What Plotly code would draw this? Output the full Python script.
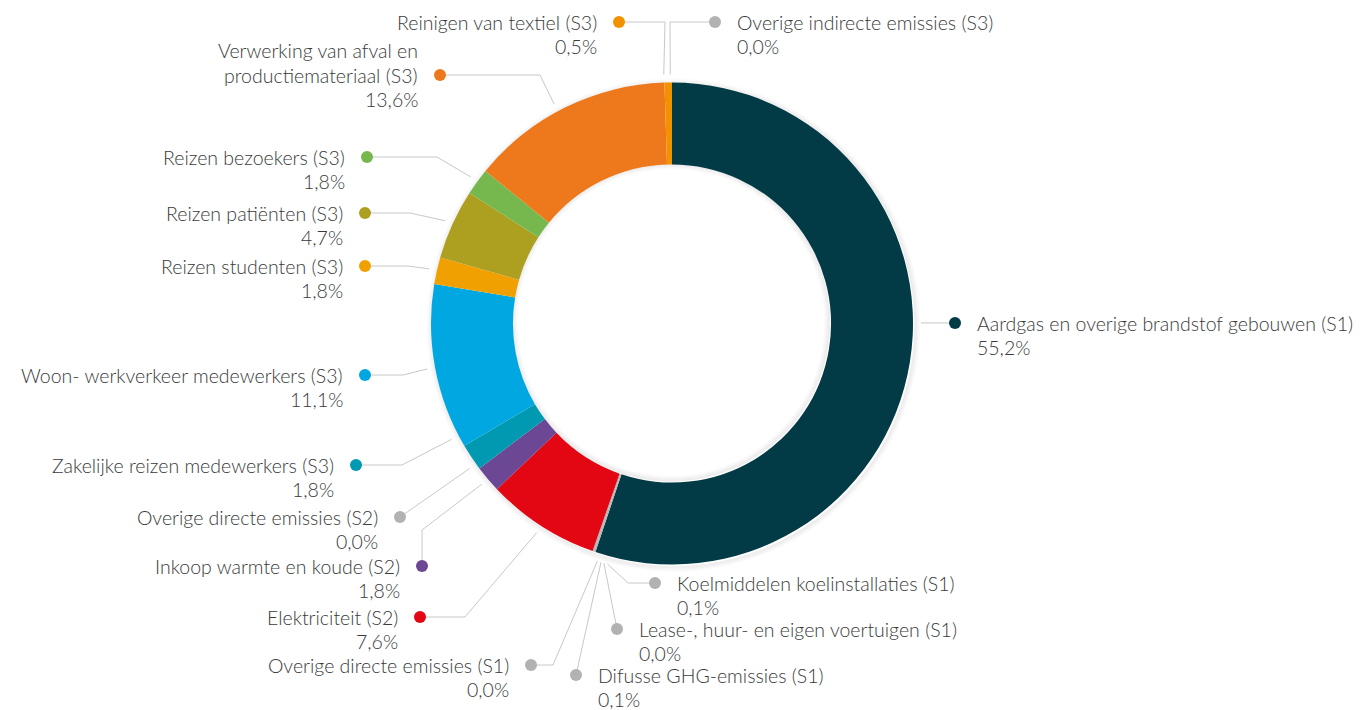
import math
import plotly.graph_objects as go

# ---------------- data ----------------
categories = [
    "Aardgas en overige brandstof gebouwen (S1)",
    "Koelmiddelen koelinstallaties (S1)",
    "Lease-, huur- en eigen voertuigen (S1)",
    "Difusse GHG-emissies (S1)",
    "Overige directe emissies (S1)",
    "Elektriciteit (S2)",
    "Overige directe emissies (S2)",
    "Inkoop warmte en koude (S2)",
    "Zakelijke reizen medewerkers (S3)",
    "Woon- werkverkeer medewerkers (S3)",
    "Reizen studenten (S3)",
    "Reizen patiënten (S3)",
    "Reizen bezoekers (S3)",
    "Verwerking van afval en productiemateriaal (S3)",
    "Reinigen van textiel (S3)",
    "Overige indirecte emissies (S3)",
]
values = [55.2, 0.1, 0.0, 0.1, 0.0, 7.6, 0.0, 1.8, 1.8, 11.1, 1.8, 4.7, 1.8, 13.6, 0.5, 0.0]

# ---------------- styles ----------------
colors = ["#023A46", "#B2B2B2", "#B2B2B2", "#B2B2B2", "#B2B2B2", "#E30613", "#B2B2B2",
          "#6B4794", "#0099B2", "#00A7E1", "#F0A000", "#ADA020", "#76B84E", "#EE791C",
          "#F39200", "#B2B2B2"]

# label layout (pixel positions of dots, elbows, side, small angle nudge of leader start)
label_side = ["R", "R", "R", "R", "L", "L", "L", "L", "L", "L", "L", "L", "L", "L", "L", "R"]
dot_xy = [(955, 323), (655, 583), (617, 629), (576, 675), (531, 665), (420, 617), (400, 517),
          (422, 566), (356, 465), (365, 375), (365, 266), (365, 213), (367, 157), (440, 75),
          (619, 22), (715, 22)]
elbows = [[], [(628, 583)], [], [], [(553, 665)], [(465, 617)], [], [(422, 530)],
          [(402, 465)], [(403, 375)], [(408, 266)], [(410, 213)], [(437, 157)], [(540, 75)],
          [(665, 22)], [(670, 22)]]
angle_nudge = [-9.4, -3.7, -3.0, -2.5, -1.8, 0, 7.8, 0, 6, 0, 0, 0, 0, -2, -1, -0.4]
name_lines = [[c] for c in categories]
name_lines[13] = ["Verwerking van afval en", "productiemateriaal (S3)"]

W, H = 1363, 710
CX, CY, R = 672, 323.5, 241
HOLE = 0.66
R_ANCHOR = 249
LH = 24.5
FONT = "Lato"
FSIZE = 19.5
TXT = "#3A3A3A"
LINE = "#C8C8C8"

fig = go.Figure()

fig.add_trace(go.Pie(
    labels=categories, values=values, sort=False, direction="clockwise", rotation=0,
    hole=HOLE, textinfo="none", marker=dict(colors=colors, line=dict(width=0)),
    domain=dict(x=[(CX - R) / W, (CX + R) / W], y=[(H - CY - R) / H, (H - CY + R) / H]),
    showlegend=False, hoverinfo="label+percent",
))

# soft shadow rings around the donut (decoration)
shapes = []
RI = R * HOLE
for k in range(1, 7):
    alpha = 0.07 * (7 - k) / 6
    for rr, off in ((R + k - 0.5, 1.5), (RI - k + 0.5, -1.0)):
        shapes.append(dict(type="circle", xref="x", yref="y", layer="below",
                           x0=CX + off - rr, x1=CX + off + rr, y0=CY + off - rr, y1=CY + off + rr,
                           line=dict(color=f"rgba(0,0,0,{alpha:.3f})", width=1.2)))

total = sum(values)
cum = 0.0
annotations = []
for i, v in enumerate(values):
    mid = (cum + v / 2) / total * 360 + angle_nudge[i]
    cum += v
    a = math.radians(mid)
    ax, ay = CX + R_ANCHOR * math.sin(a), CY - R_ANCHOR * math.cos(a)
    pts = [(ax, ay)] + elbows[i] + [dot_xy[i]]
    fig.add_trace(go.Scatter(x=[p[0] for p in pts], y=[p[1] for p in pts], mode="lines",
                             line=dict(color=LINE, width=1), hoverinfo="skip",
                             showlegend=False, xaxis="x", yaxis="y"))
    fig.add_trace(go.Scatter(x=[dot_xy[i][0]], y=[dot_xy[i][1]], mode="markers",
                             marker=dict(color=colors[i], size=12), hoverinfo="skip",
                             showlegend=False, xaxis="x", yaxis="y"))
    dx, dy = dot_xy[i]
    lines = name_lines[i] + [f"{v:.1f}".replace(".", ",") + "%"]
    y0 = dy - (len(name_lines[i]) - 1) * LH
    for k, t in enumerate(lines):
        if label_side[i] == "L":
            tx, anchor = dx - 20, "right"
        else:
            tx, anchor = dx + 20, "left"
        annotations.append(dict(x=tx, y=y0 + k * LH, xref="x", yref="y", text=t,
                                showarrow=False, xanchor=anchor, yanchor="middle",
                                font=dict(family=FONT, size=FSIZE, color=TXT, weight=300)))

fig.update_layout(
    width=W, height=H, margin=dict(l=0, r=0, t=0, b=0),
    paper_bgcolor="white", plot_bgcolor="rgba(0,0,0,0)",
    xaxis=dict(range=[0, W], visible=False, fixedrange=True, domain=[0, 1]),
    yaxis=dict(range=[H, 0], visible=False, fixedrange=True, domain=[0, 1]),
    annotations=annotations, shapes=shapes, showlegend=False,
)

fig.write_html("out.html", config={"displayModeBar": False},
               post_script="document.body.style.margin='0';")
